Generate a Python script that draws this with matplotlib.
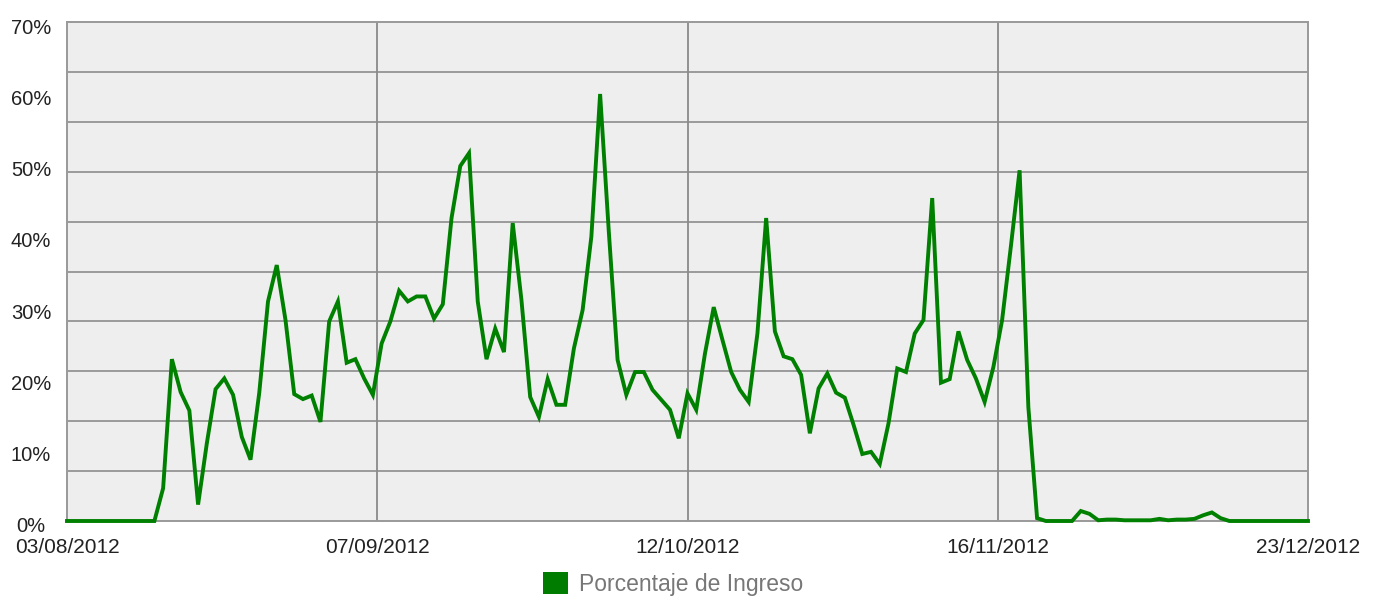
import matplotlib
matplotlib.use("Agg")
import matplotlib.pyplot as plt
import matplotlib.transforms as mtransforms
from matplotlib.patches import Patch

plt.rcParams['font.family'] = ['Liberation Sans', 'DejaVu Sans']

# Day index since 03/08/2012 (axis spans 142 days to 23/12/2012)
days = list(range(0, 143))
porcentaje = [
    0, 0, 0, 0, 0, 0, 0, 0, 0, 0, 0,
    4.6, 22.7, 18.1, 15.5, 2.3, 10.9, 18.5, 20.0, 17.7, 11.8,
    8.6, 18.0, 30.8, 35.9, 28.2, 17.8, 17.1, 17.6, 13.9, 28.0,
    30.8, 22.2, 22.7, 20.0, 17.7, 24.9, 28.0, 32.3, 30.8, 31.5,
    31.5, 28.4, 30.4, 42.5, 49.8, 51.6, 30.8, 22.7, 27.0, 23.7,
    41.8, 31.0, 17.4, 14.6, 19.9, 16.3, 16.3, 24.2, 29.6, 39.9,
    59.9, 40.5, 22.6, 17.7, 20.9, 20.9, 18.4, 17.0, 15.6, 11.6,
    17.9, 15.6, 23.5, 30.0, 25.4, 20.9, 18.4, 16.7, 26.3, 42.5,
    26.6, 23.1, 22.7, 20.5, 12.3, 18.6, 20.7, 18.0, 17.3, 13.5,
    9.4, 9.7, 8.0, 13.7, 21.4, 20.9, 26.3, 28.2, 45.3, 19.4,
    19.9, 26.6, 22.6, 20.0, 16.7, 21.6, 28.2, 38.5, 49.2, 16.0,
    0.4, 0, 0, 0, 0, 1.4, 1.0, 0.1, 0.2, 0.2,
    0.1, 0.1, 0.1, 0.1, 0.3, 0.1, 0.2, 0.2, 0.3, 0.8,
    1.2, 0.4, 0, 0, 0, 0, 0, 0, 0, 0,
    0, 0,
]

x_tick_pos = [0, 35.5, 71, 106.5, 142]
x_tick_labels = ['03/08/2012', '07/09/2012', '12/10/2012', '16/11/2012', '23/12/2012']
y_tick_vals = [0, 10, 20, 30, 40, 50, 60, 70]
y_tick_labels = ['0%', '10%', '20%', '30%', '40%', '50%', '60%', '70%']
y_grid_vals = [7, 14, 21, 28, 35, 42, 49, 56, 63]

fig = plt.figure(figsize=(13.76, 5.98), dpi=100)
ax = fig.add_axes([67/1376, 1 - 521/598, (1308-67)/1376, (521-22)/598])
ax.set_facecolor('#eeeeee')

ax.set_xlim(0, 142)
ax.set_ylim(0, 70)

for v in y_grid_vals:
    ax.axhline(v, color='#9a9a9a', lw=1.4, zorder=1)
for v in x_tick_pos[1:-1]:
    ax.axvline(v, color='#8a8a8a', lw=1.3, zorder=1)

ax.plot(days, porcentaje, color='#008000', lw=2.8, zorder=3, solid_joinstyle='miter',
        clip_on=False)

for s in ax.spines.values():
    s.set_color('#999999')
    s.set_linewidth(1.4)

ax.set_xticks(x_tick_pos)
ax.set_xticklabels(x_tick_labels, fontsize=15, color='#222222')
ax.set_yticks(y_tick_vals)
ax.set_yticklabels(y_tick_labels, fontsize=14.5, color='#222222', ha='center')
ax.tick_params(axis='both', length=0)
ax.tick_params(axis='x', pad=12)
ax.tick_params(axis='y', pad=0)

# center y labels at x ~ 31 px, shift slightly down
for lbl in ax.get_yticklabels():
    lbl.set_x(-36/1241)
    lbl.set_transform(ax.get_yaxis_transform() + mtransforms.ScaledTranslation(0, -0.04, fig.dpi_scale_trans))

leg = fig.legend(handles=[Patch(facecolor='#007d00', edgecolor='none')],
                 labels=['Porcentaje de Ingreso'],
                 loc='center', bbox_to_anchor=(673/1376, 1 - 584/598),
                 frameon=False, fontsize=16.5, handlelength=1.1, handleheight=1.1,
                 handletextpad=0.5, borderpad=0)
for t in leg.get_texts():
    t.set_color('#777777')

fig.savefig('out.png', dpi=100)
